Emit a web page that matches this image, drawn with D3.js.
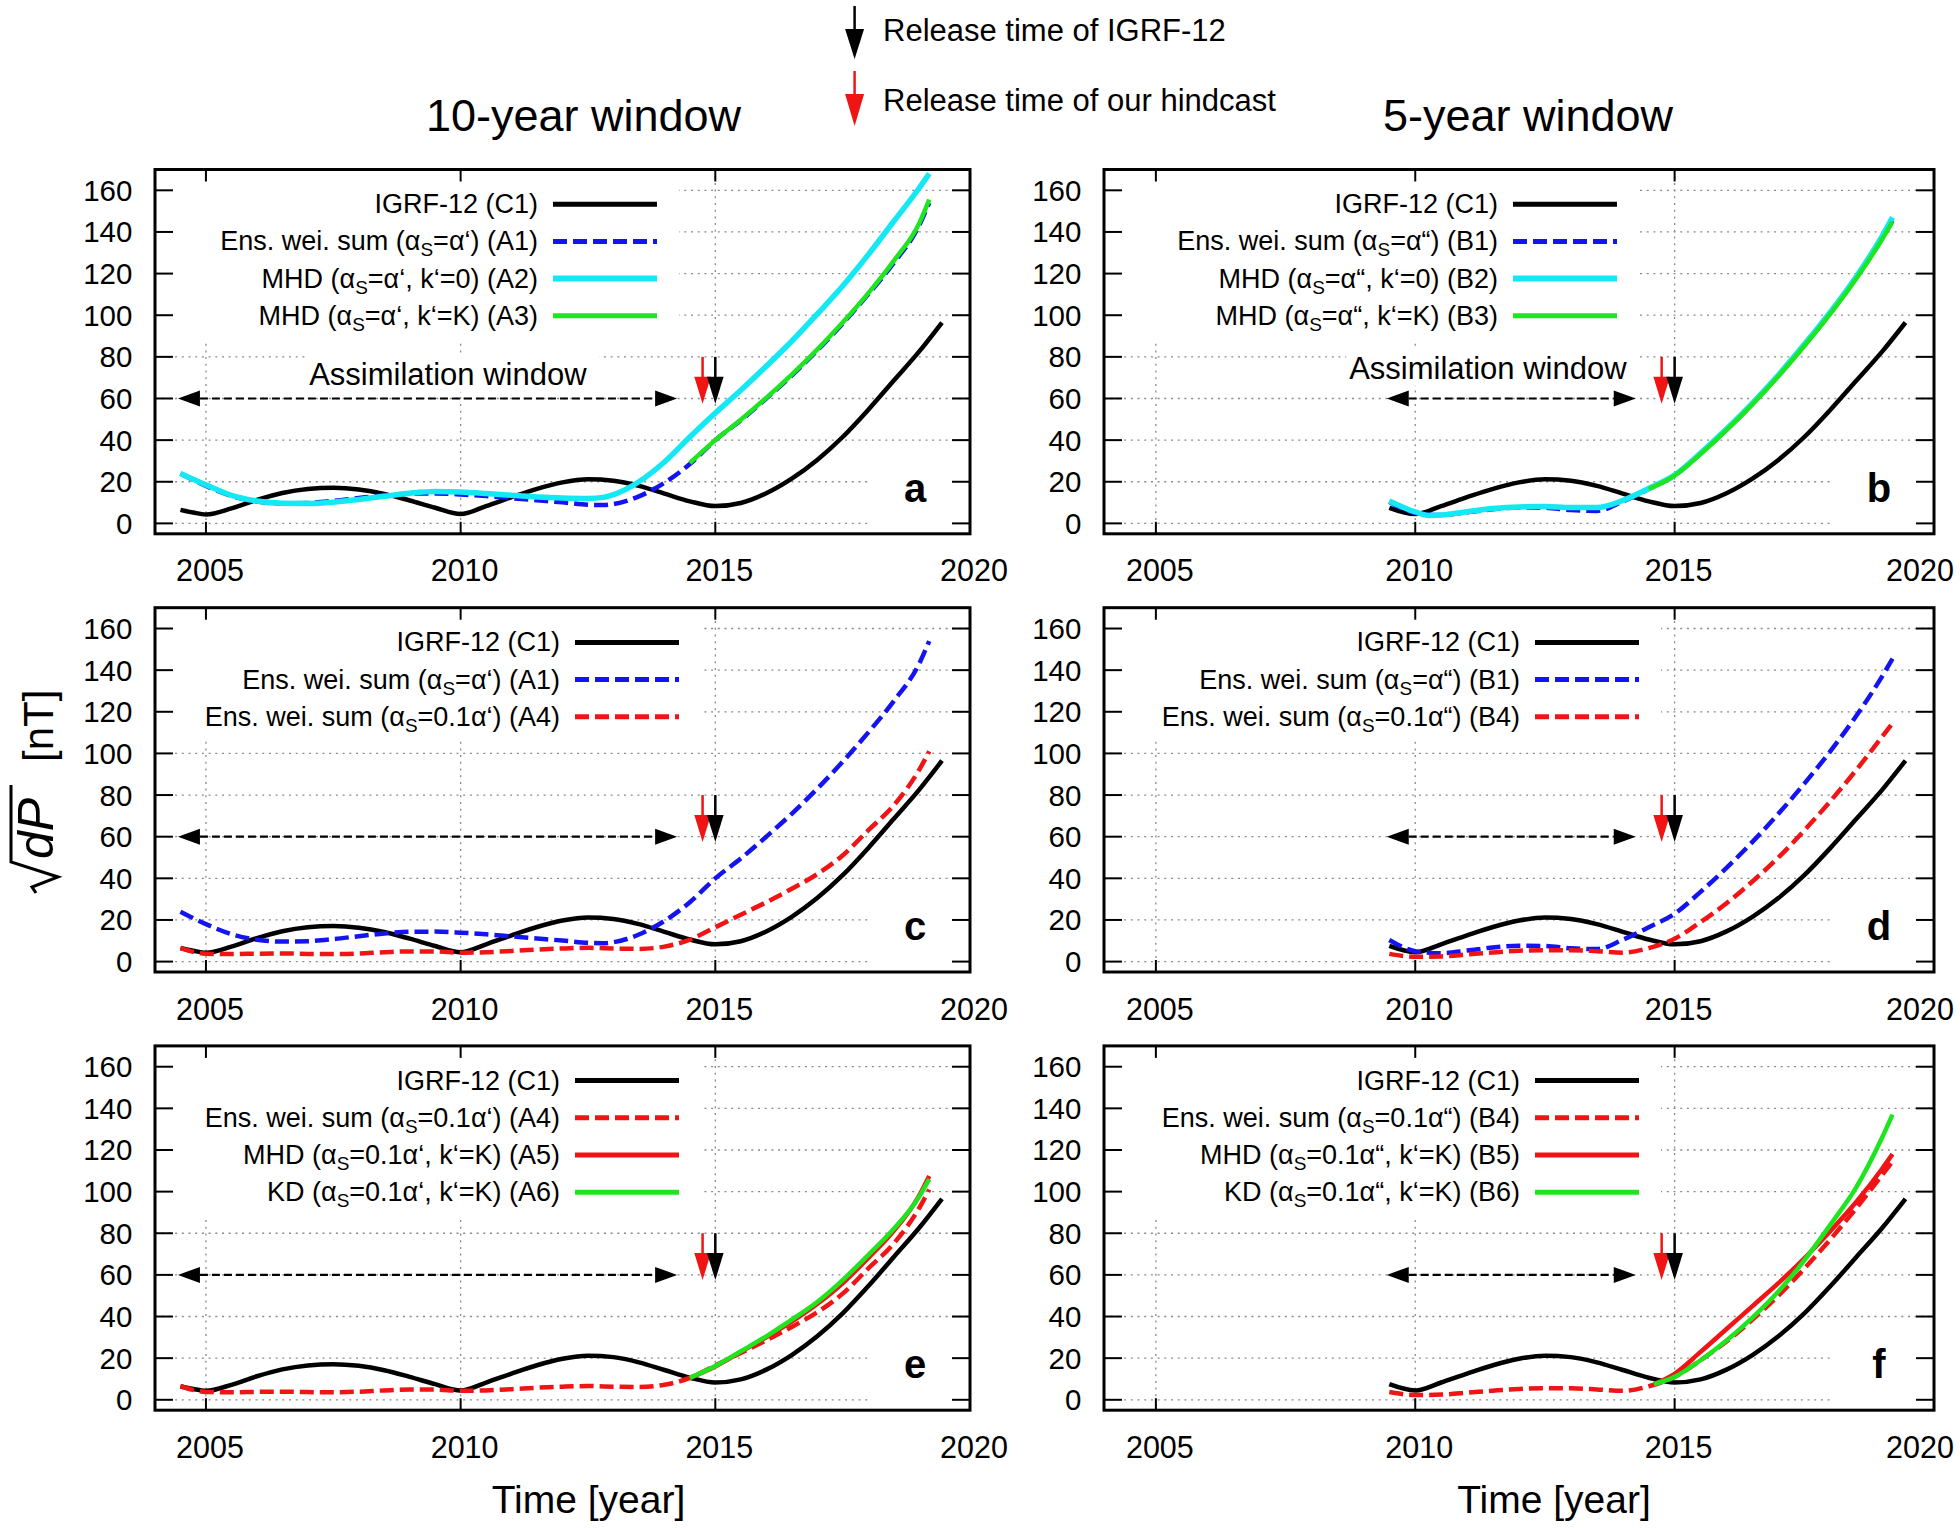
<!DOCTYPE html>
<html>
<head>
<meta charset="utf-8">
<script src="https://cdn.jsdelivr.net/npm/d3@7"></script>
<style>
  body { margin: 0; background: #fff; }
  svg { font-family: "Liberation Sans", Arial, Helvetica, sans-serif; }
</style>
</head>
<body>
<svg id="chart" width="1960" height="1528"></svg>
<script>
// ---- Data ----
const xTicks = [2005, 2010, 2015, 2020];
const yTicks = [0, 20, 40, 60, 80, 100, 120, 140, 160];
const xDomain = [2004, 2020];
const yDomain = [-5, 170];

// sqrt(dP) [nT] vs time
const igrfC1 = [[2004.5,6.5],[2004.75,5.2],[2005,4.3],[2005.5,7.2],[2006,11.3],[2006.5,14.6],[2007,16.5],[2007.5,17.1],[2008,16.3],[2008.5,14.2],[2009,11.0],[2009.5,7.5],[2010,4.5],[2010.5,8.3],[2011,12.6],[2011.5,16.6],[2012,19.7],[2012.5,21.2],[2013,20.5],[2013.5,18.0],[2014,14.3],[2014.5,10.6],[2015,8.3],[2015.5,9.8],[2016,14.5],[2016.5,21.5],[2017,30.5],[2017.5,41.5],[2018,54.5],[2018.5,68.5],[2019,82.5],[2019.45,96.5]];
const ensA1 = [[2004.5,24],[2005,18],[2005.5,13.2],[2006,10.5],[2006.5,9.6],[2007,9.8],[2007.5,10.8],[2008,12.2],[2008.5,13.5],[2009,14.3],[2009.5,14.4],[2010,13.9],[2010.5,13.1],[2011,12.1],[2011.5,11.1],[2012,10.1],[2012.5,9.0],[2012.8,8.8],[2013,9.3],[2013.5,13],[2014,19.5],[2014.5,28.5],[2015,40],[2015.5,49.5],[2016,60],[2016.5,71],[2017,83],[2017.5,96],[2018,110],[2018.5,125],[2019,143],[2019.2,154]];
const mhdA2 = [[2004.5,24],[2005,18.5],[2005.5,13.5],[2006,10.8],[2006.5,9.7],[2007,9.6],[2007.5,10.2],[2008,11.5],[2008.5,13],[2009,14.5],[2009.5,15.3],[2010,15.1],[2010.5,14.4],[2011,13.5],[2011.5,12.7],[2012,12.2],[2012.5,12.0],[2012.8,12.5],[2013,13.8],[2013.5,20],[2014,29.5],[2014.5,41.5],[2015,53],[2015.5,64],[2016,75.5],[2016.5,87.5],[2017,100.5],[2017.5,114],[2018,129],[2018.5,145],[2019,161],[2019.2,168]];
const mhdA3 = [[2014.5,29],[2015,40],[2015.5,49.8],[2016,60.3],[2016.5,71.5],[2017,83.5],[2017.5,96.5],[2018,110.5],[2018.5,126],[2019,144],[2019.2,155.5]];
const ensA4 = [[2004.5,6.5],[2005,3.8],[2005.5,3.6],[2006,3.8],[2006.5,3.9],[2007,3.7],[2007.5,3.6],[2008,3.9],[2008.5,4.5],[2009,4.9],[2009.5,4.9],[2010,4.3],[2010.5,4.5],[2011,5.1],[2011.5,5.8],[2012,6.3],[2012.5,6.6],[2013,6.3],[2013.5,6.1],[2014,7.2],[2014.5,10.5],[2015,16.5],[2015.5,22.5],[2016,28.5],[2016.5,35],[2017,42],[2017.5,51],[2018,63],[2018.5,75],[2019,92],[2019.2,101]];
const mhdA5 = [[2014.5,10.5],[2015,16],[2015.5,23],[2016,30],[2016.5,37.5],[2017,46],[2017.5,56],[2018,68],[2018.5,81],[2019,98],[2019.2,107.5]];
const kdA6 = [[2014.5,10.5],[2015,16.2],[2015.5,23.3],[2016,30.5],[2016.5,38.5],[2017,47],[2017.5,57.5],[2018,69.5],[2018.5,82],[2019,97.5],[2019.2,106]];
const ensB1 = [[2009.5,10.4],[2010,5],[2010.5,4],[2011,5.3],[2011.5,6.8],[2012,7.6],[2012.5,7.5],[2013,6.4],[2013.5,6],[2014,10.5],[2014.5,16.5],[2015,23],[2015.5,33.5],[2016,45],[2016.5,57.5],[2017,71],[2017.5,85.5],[2018,101],[2018.5,118],[2019,137],[2019.2,145.5]];
const mhdB2 = [[2009.5,10.8],[2010,5.5],[2010.3,3.8],[2010.5,4],[2011,5.6],[2011.5,7.1],[2012,7.9],[2012.5,8.1],[2013,7.6],[2013.5,7.6],[2014,11],[2014.5,16.8],[2015,23.2],[2015.5,33.8],[2016,45.3],[2016.5,57.8],[2017,71.3],[2017.5,86],[2018,101.5],[2018.5,118.5],[2019,138],[2019.2,147]];
const mhdB3 = [[2014.5,16.5],[2015,23],[2015.5,33.3],[2016,44.8],[2016.5,57.2],[2017,70.7],[2017.5,85.2],[2018,100.6],[2018.5,117.5],[2019,136.5],[2019.2,145]];
const ensB4 = [[2009.5,3.7],[2010,2.3],[2010.5,2.5],[2011,3.4],[2011.5,4.4],[2012,5.2],[2012.5,5.5],[2013,5.5],[2013.5,5],[2014,4.3],[2014.5,6.5],[2015,11],[2015.5,19],[2016,28],[2016.5,38.5],[2017,50],[2017.5,63],[2018,77],[2018.5,92],[2019,108],[2019.2,114.5]];
const mhdB5 = [[2014.6,7.5],[2015,12.5],[2015.5,23],[2016,34],[2016.5,45],[2017,56],[2017.5,68],[2018,81],[2018.5,95],[2019,111],[2019.2,118]];
const kdB6 = [[2014.6,7.5],[2015,11],[2015.5,19],[2016,28.5],[2016.5,39.5],[2017,52],[2017.5,67],[2018,84],[2018.5,102],[2019,126],[2019.2,137]];

// assimilation windows and release times (years)
const windowTen = [2004.45, 2014.25];
const windowFive = [2009.45, 2014.25];
const releaseHindcast = 2014.75;
const releaseIGRF = 2015.0;

const BLACK = "#000", BLUE = "#1414f0", CYAN = "#14e8f4", GREEN = "#1ee61e", RED = "#f01414";

// ---- Layout ----
const cols = [{ x0: 155, x1: 970 }, { x0: 1104, x1: 1934 }];
const rowTops = [169.5, 607.7, 1045.9];
const rowH = 364.3;

const c1Right = igrfC1.filter(d => d[0] >= 2009.5);

const panels = [
  { letter: "a", col: 0, row: 0, keyEnd: 657, win: windowTen, winText: [2009.75, 66.5], series: [
    { name: "IGRF-12 (C1)", data: igrfC1, color: BLACK, w: 4.5 },
    { name: "Ens. wei. sum (α_S=α‘) (A1)", data: ensA1, color: BLUE, w: 4.5, dash: true },
    { name: "MHD (α_S=α‘, k‘=0) (A2)", data: mhdA2, color: CYAN, w: 5.5 },
    { name: "MHD (α_S=α‘, k‘=K) (A3)", data: mhdA3, color: GREEN, w: 4.5 } ] },
  { letter: "b", col: 1, row: 0, keyEnd: 1617, win: windowFive, winText: [2011.4, 69.5], series: [
    { name: "IGRF-12 (C1)", data: c1Right, color: BLACK, w: 4.5 },
    { name: "Ens. wei. sum (α_S=α“) (B1)", data: ensB1, color: BLUE, w: 4.5, dash: true },
    { name: "MHD (α_S=α“, k‘=0) (B2)", data: mhdB2, color: CYAN, w: 5.5 },
    { name: "MHD (α_S=α“, k‘=K) (B3)", data: mhdB3, color: GREEN, w: 4.5 } ] },
  { letter: "c", col: 0, row: 1, keyEnd: 679, win: windowTen, series: [
    { name: "IGRF-12 (C1)", data: igrfC1, color: BLACK, w: 4.5 },
    { name: "Ens. wei. sum (α_S=α‘) (A1)", data: ensA1, color: BLUE, w: 4.5, dash: true },
    { name: "Ens. wei. sum (α_S=0.1α‘) (A4)", data: ensA4, color: RED, w: 4.5, dash: true } ] },
  { letter: "d", col: 1, row: 1, keyEnd: 1639, win: windowFive, series: [
    { name: "IGRF-12 (C1)", data: c1Right, color: BLACK, w: 4.5 },
    { name: "Ens. wei. sum (α_S=α“) (B1)", data: ensB1, color: BLUE, w: 4.5, dash: true },
    { name: "Ens. wei. sum (α_S=0.1α“) (B4)", data: ensB4, color: RED, w: 4.5, dash: true } ] },
  { letter: "e", col: 0, row: 2, keyEnd: 679, win: windowTen, series: [
    { name: "IGRF-12 (C1)", data: igrfC1, color: BLACK, w: 4.5 },
    { name: "Ens. wei. sum (α_S=0.1α‘) (A4)", data: ensA4, color: RED, w: 4.5, dash: true },
    { name: "MHD (α_S=0.1α‘, k‘=K) (A5)", data: mhdA5, color: RED, w: 4.5 },
    { name: "KD (α_S=0.1α‘, k‘=K) (A6)", data: kdA6, color: GREEN, w: 4.5 } ] },
  { letter: "f", col: 1, row: 2, keyEnd: 1639, win: windowFive, series: [
    { name: "IGRF-12 (C1)", data: c1Right, color: BLACK, w: 4.5 },
    { name: "Ens. wei. sum (α_S=0.1α“) (B4)", data: ensB4, color: RED, w: 4.5, dash: true },
    { name: "MHD (α_S=0.1α“, k‘=K) (B5)", data: mhdB5, color: RED, w: 4.5 },
    { name: "KD (α_S=0.1α“, k‘=K) (B6)", data: kdB6, color: GREEN, w: 4.5 } ] }
];

const svg = d3.select("#chart");

// text with alpha subscript "S"
function richText(sel, str, sub) {
  const parts = str.split("_S");
  sel.append("tspan").text(parts[0]);
  if (parts.length > 1) {
    sel.append("tspan").attr("dy", 6).style("font-size", sub + "px").text("S");
    sel.append("tspan").attr("dy", -6).text(parts[1]);
  }
}

function arrowDown(g, x, yTop, yTip, color, headLen, headW, sw) {
  g.append("line").attr("x1", x).attr("x2", x).attr("y1", yTop).attr("y2", yTip - headLen + 2)
    .attr("stroke", color).attr("stroke-width", sw);
  g.append("path")
    .attr("d", `M${x - headW},${yTip - headLen}L${x + headW},${yTip - headLen}L${x},${yTip}Z`)
    .attr("fill", color);
}

panels.forEach(p => {
  const c = cols[p.col];
  const top = rowTops[p.row], bottom = top + rowH;
  const x = d3.scaleLinear().domain(xDomain).range([c.x0, c.x1]);
  const y = d3.scaleLinear().domain(yDomain).range([bottom, top]);
  const g = svg.append("g");

  // grid
  g.selectAll(".hgrid").data(yTicks).enter().append("line")
    .attr("x1", c.x0).attr("x2", c.x1).attr("y1", d => y(d)).attr("y2", d => y(d))
    .attr("stroke", "#8a8a8a").attr("stroke-width", 1.3).attr("stroke-dasharray", "2,4.7");
  g.selectAll(".vgrid").data(xTicks.slice(0, 3)).enter().append("line")
    .attr("x1", d => x(d)).attr("x2", d => x(d)).attr("y1", top).attr("y2", bottom)
    .attr("stroke", "#8a8a8a").attr("stroke-width", 1.3).attr("stroke-dasharray", "2,4.7");

  // opaque key box
  const n = p.series.length;
  const keyY = i => top + 34.7 + i * 37.2;
  g.append("rect").attr("x", c.x0 + 2).attr("y", top + 2)
    .attr("width", p.keyEnd + 22 - c.x0 - 2).attr("height", keyY(n - 1) + 22 - top)
    .attr("fill", "#fff");

  // panel letter box
  g.append("rect").attr("x", c.x1 - 100).attr("y", y(23)).attr("width", 97).attr("height", y(-3) - y(23))
    .attr("fill", "#fff");

  // assimilation window text
  if (p.winText) {
    const t = g.append("text").attr("x", x(p.winText[0])).attr("y", y(p.winText[1]))
      .attr("text-anchor", "middle").style("font-size", "31px").text("Assimilation window");
    const bb = t.node().getBBox();
    g.insert("rect", "text").attr("x", bb.x - 3).attr("y", bb.y - 2)
      .attr("width", bb.width + 15).attr("height", bb.height + 2).attr("fill", "#fff");
  }

  // curves
  const line = d3.line().x(d => x(d[0])).y(d => y(d[1])).curve(d3.curveMonotoneX);
  p.series.forEach(s => {
    g.append("path").datum(s.data).attr("d", line)
      .attr("fill", "none").attr("stroke", s.color).attr("stroke-width", s.w)
      .attr("stroke-dasharray", s.dash ? "14,6" : null);
  });

  // key
  p.series.forEach((s, i) => {
    const yy = keyY(i);
    g.append("line").attr("x1", p.keyEnd - 104).attr("x2", p.keyEnd).attr("y1", yy).attr("y2", yy)
      .attr("stroke", s.color).attr("stroke-width", s.w + 0.5)
      .attr("stroke-dasharray", s.dash ? "14,6" : null);
    const t = g.append("text").attr("x", p.keyEnd - 119).attr("y", yy + 9)
      .attr("text-anchor", "end").style("font-size", "27px");
    richText(t, s.name, 19);
  });

  // assimilation window double arrow
  const wy = y(60), xa = x(p.win[0]), xb = x(p.win[1]);
  const hl = 22, hw = 8;
  g.append("line").attr("x1", xa + hl).attr("x2", xb - hl).attr("y1", wy).attr("y2", wy)
    .attr("stroke", "#000").attr("stroke-width", 2.2).attr("stroke-dasharray", "8,4");
  g.append("path").attr("d", `M${xa},${wy}L${xa + hl},${wy - hw}L${xa + hl},${wy + hw}Z`).attr("fill", "#000");
  g.append("path").attr("d", `M${xb},${wy}L${xb - hl},${wy - hw}L${xb - hl},${wy + hw}Z`).attr("fill", "#000");

  // release arrows
  arrowDown(g, x(releaseHindcast), y(80), y(57.5), RED, 27, 8.3, 2.5);
  arrowDown(g, x(releaseIGRF), y(80), y(57.5), "#000", 27, 8.3, 2.5);

  // panel letter
  g.append("text").attr("x", c.x1 - 55).attr("y", bottom - 32)
    .attr("text-anchor", "middle").style("font-size", "40px").style("font-weight", "bold").text(p.letter);

  // ticks
  yTicks.forEach(v => {
    g.append("line").attr("x1", c.x0).attr("x2", c.x0 + 18).attr("y1", y(v)).attr("y2", y(v))
      .attr("stroke", "#000").attr("stroke-width", 2);
    g.append("line").attr("x1", c.x1).attr("x2", c.x1 - 18).attr("y1", y(v)).attr("y2", y(v))
      .attr("stroke", "#000").attr("stroke-width", 2);
    g.append("text").attr("x", c.x0 - 22.6).attr("y", y(v) + 10.5)
      .attr("text-anchor", "end").style("font-size", "29.5px").text(v);
  });
  xTicks.forEach(v => {
    if (v < 2020) {
      g.append("line").attr("x1", x(v)).attr("x2", x(v)).attr("y1", bottom).attr("y2", bottom - 12)
        .attr("stroke", "#000").attr("stroke-width", 2);
      g.append("line").attr("x1", x(v)).attr("x2", x(v)).attr("y1", top).attr("y2", top + 12)
        .attr("stroke", "#000").attr("stroke-width", 2);
    }
    g.append("text").attr("x", Math.min(x(v) + 4, 1920)).attr("y", bottom + 47.5)
      .attr("text-anchor", "middle").style("font-size", "30.5px").text(v);
  });

  // frame
  g.append("rect").attr("x", c.x0).attr("y", top).attr("width", c.x1 - c.x0).attr("height", rowH)
    .attr("fill", "none").attr("stroke", "#000").attr("stroke-width", 3);
});

// column titles
svg.append("text").attr("x", 583.5).attr("y", 131).attr("text-anchor", "middle")
  .style("font-size", "45px").text("10-year window");
svg.append("text").attr("x", 1528).attr("y", 131).attr("text-anchor", "middle")
  .style("font-size", "45px").text("5-year window");

// top legend for arrows
arrowDown(svg, 854.6, 6, 59, "#000", 30, 9.5, 2.5);
arrowDown(svg, 854.6, 71, 126, RED, 32, 9.5, 2.5);
svg.append("text").attr("x", 883).attr("y", 40.5).style("font-size", "31px").text("Release time of IGRF-12");
svg.append("text").attr("x", 883).attr("y", 111).style("font-size", "31px").text("Release time of our hindcast");

// x-axis titles
svg.append("text").attr("x", 588.5).attr("y", 1513).attr("text-anchor", "middle")
  .style("font-size", "39px").text("Time [year]");
svg.append("text").attr("x", 1554).attr("y", 1513).attr("text-anchor", "middle")
  .style("font-size", "39px").text("Time [year]");

// y-axis title: sqrt(dP) [nT]
const yl = svg.append("g").attr("transform", "translate(53,893) rotate(-90)");
yl.append("path").attr("d", "M0,-17L6,-21L16,5L31,-42H108")
  .attr("fill", "none").attr("stroke", "#000").attr("stroke-width", 3);
yl.append("text").attr("x", 34).attr("y", 0).style("font-size", "50px").style("font-style", "italic").text("dP");
yl.append("text").attr("x", 131).attr("y", 0).style("font-size", "42px").text("[nT]");
</script>
</body>
</html>
